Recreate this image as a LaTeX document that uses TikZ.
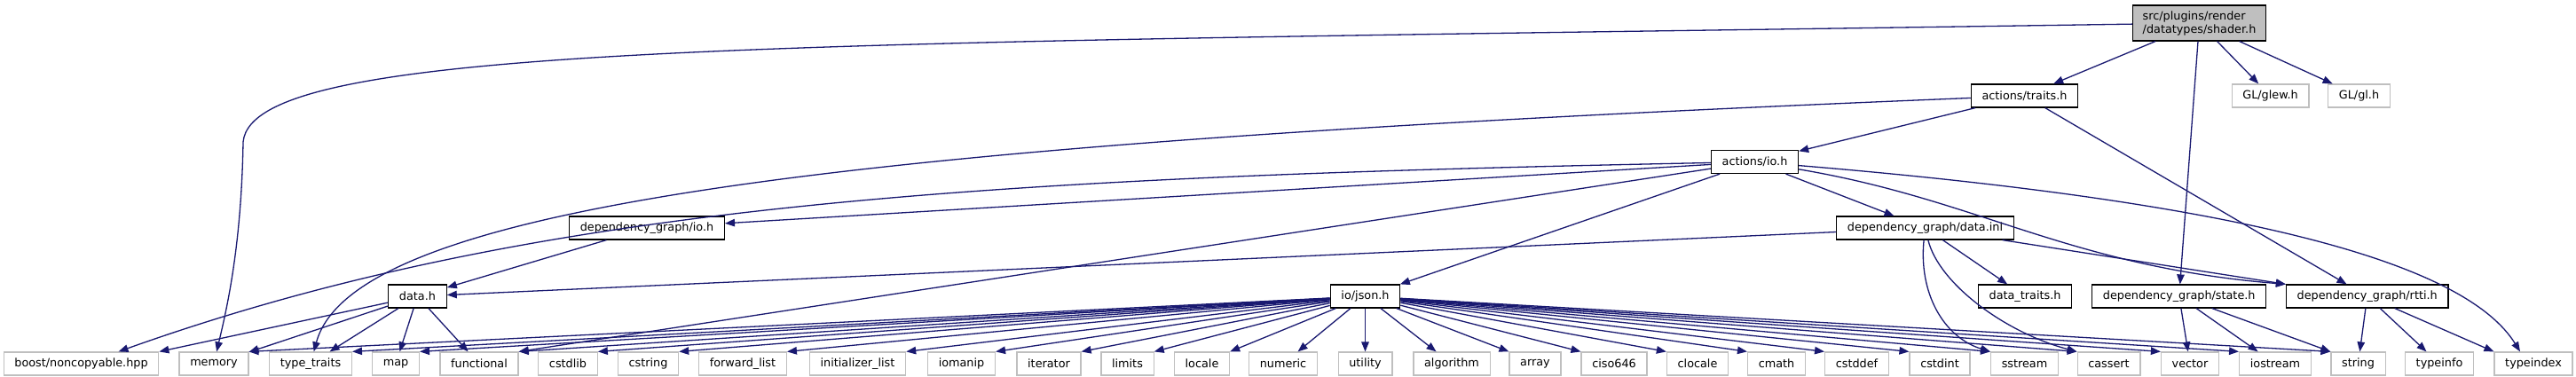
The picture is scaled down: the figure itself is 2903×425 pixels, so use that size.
\documentclass[tikz,border=0pt]{standalone}
\usepackage{fontspec}
\setmainfont{DejaVu Sans}
\usepackage{tikz}
\usetikzlibrary{arrows.meta}
\usepackage{xcolor}
\definecolor{inclblue}{HTML}{191970}
\definecolor{extgrey}{HTML}{BFBFBF}
\newcommand{\doxfont}{\fontsize{12.8}{15}\selectfont}

\begin{document}
\begin{tikzpicture}[x=1pt, y=-1pt,
    docbox/.style={draw=black, fill=white, line width=1.2pt, minimum height=26pt,
                   inner xsep=12.2pt, inner ysep=0pt, font=\doxfont},
    extbox/.style={docbox, draw=extgrey},
    rootbox/.style={docbox, fill=extgrey, minimum height=40pt, align=left, inner xsep=11pt},
    incl/.style={-{Triangle[length=11pt, width=8.5pt]}, inclblue, line width=1.3pt}]
  \useasboundingbox (0,0) rectangle (2903,425);

  % files of the project
  \node[rootbox] (shader) at (2478.5,26) {src/plugins/render\\/datatypes/shader.h};
  \node[docbox] (traits) at (2281.5,108) {actions/traits.h};
  \node[extbox] (glew) at (2558.5,108) {GL/glew.h};
  \node[extbox] (gl) at (2658.5,108) {GL/gl.h};
  \node[docbox] (actio) at (1977.5,182.5) {actions/io.h};
  \node[docbox] (dgio) at (729,257) {dependency\_graph/io.h};
  \node[docbox] (dinl) at (2169.5,257) {dependency\_graph/data.inl};
  \node[docbox] (datah) at (470.5,334) {data.h};
  \node[docbox] (json) at (1538.5,334) {io/json.h};
  \node[docbox] (dtraits) at (2282,334) {data\_traits.h};
  \node[docbox] (state) at (2455.7,334) {dependency\_graph/state.h};
  \node[docbox] (rtti) at (2667.7,334) {dependency\_graph/rtti.h};

  % system headers
  \node[extbox] (boost) at (91.5,410) {boost/noncopyable.hpp};
  \node[extbox] (memory) at (241,410) {memory};
  \node[extbox] (typetraits) at (350,410) {type\_traits};
  \node[extbox] (map) at (446,410) {map};
  \node[extbox] (functional) at (540,410) {functional};
  \node[extbox] (cstdlib) at (640,410) {cstdlib};
  \node[extbox] (cstring) at (730.5,410) {cstring};
  \node[extbox] (fwdlist) at (837,410) {forward\_list};
  \node[extbox] (initlist) at (966.5,410) {initializer\_list};
  \node[extbox] (iomanip) at (1083.5,410) {iomanip};
  \node[extbox] (iterator) at (1182,410) {iterator};
  \node[extbox] (limits) at (1270.5,410) {limits};
  \node[extbox] (locale) at (1354.5,410) {locale};
  \node[extbox] (numeric) at (1446,410) {numeric};
  \node[extbox] (utility) at (1538.5,410) {utility};
  \node[extbox] (algorithm) at (1636,410) {algorithm};
  \node[extbox] (array) at (1730,410) {array};
  \node[extbox] (ciso) at (1819,410) {ciso646};
  \node[extbox] (clocale) at (1913,410) {clocale};
  \node[extbox] (cmath) at (2002,410) {cmath};
  \node[extbox] (cstddef) at (2092.5,410) {cstddef};
  \node[extbox] (cstdint) at (2186,410) {cstdint};
  \node[extbox] (sstream) at (2281.5,410) {sstream};
  \node[extbox] (cassert) at (2376.5,410) {cassert};
  \node[extbox] (vector) at (2468,410) {vector};
  \node[extbox] (iostream) at (2564,410) {iostream};
  \node[extbox] (string) at (2657.5,410) {string};
  \node[extbox] (typeinfo) at (2749,410) {typeinfo};
  \node[extbox] (typeindex) at (2855,410) {typeindex};

  % shader.h
  \draw[incl] (shader) .. controls (900,50) and (285,45) .. (274,160)
    .. controls (272,280) and (255,350) .. (memory);
  \draw[incl] (shader) -- (traits);
  \draw[incl] (shader) -- (state);
  \draw[incl] (shader) -- (glew);
  \draw[incl] (shader) -- (gl);

  % actions/traits.h
  \draw[incl] (traits) -- (actio);
  \draw[incl] (traits) .. controls (1000,160) and (400,225) .. (typetraits);
  \draw[incl] (traits) -- (rtti);

  % actions/io.h
  \draw[incl] (actio) -- (dgio);
  \draw[incl] (actio) .. controls (1100,200) and (600,230) .. ([xshift=42]boost.north);
  \draw[incl] (actio) -- (functional.north east);
  \draw[incl] (actio) -- (json);
  \draw[incl] (actio) -- (dinl);
  \draw[incl] (actio) .. controls (2230,225) and (2330,300) .. (rtti.north west);
  \draw[incl] (actio) .. controls (2550,230) and (2780,300) .. ([xshift=-15]typeindex.north);

  % dependency_graph/io.h and data.inl
  \draw[incl] (dgio) -- (datah);
  \draw[incl] (dinl) -- (datah);
  \draw[incl] (dinl) -- (dtraits);
  \draw[incl] (dinl) .. controls (2162,330) and (2190,380) .. (sstream.north west);
  \draw[incl] (dinl) .. controls (2185,320) and (2260,375) .. (cassert.north west);
  \draw[incl] (dinl) -- (rtti.north west);

  % data.h
  \draw[incl] (datah) -- (boost.north east);
  \draw[incl] (datah) -- (memory);
  \draw[incl] (datah) -- (typetraits);
  \draw[incl] (datah) -- (map);
  \draw[incl] (datah) -- (functional);

  % io/json.h
  \draw[incl] (json) -- (memory.north east);
  \draw[incl] (json) -- (typetraits.north east);
  \draw[incl] (json) -- (map.north east);
  \draw[incl] (json) -- (functional.north east);
  \draw[incl] (json) -- (cstdlib.north east);
  \draw[incl] (json) -- (cstring.north east);
  \draw[incl] (json) -- (fwdlist.north east);
  \draw[incl] (json) -- (initlist.north east);
  \draw[incl] (json) -- (iomanip.north east);
  \draw[incl] (json) -- (iterator.north east);
  \draw[incl] (json) -- (limits.north east);
  \draw[incl] (json) -- (locale.north east);
  \draw[incl] (json) -- (numeric);
  \draw[incl] (json) -- (utility);
  \draw[incl] (json) -- (algorithm);
  \draw[incl] (json) -- (array.north west);
  \draw[incl] (json) -- (ciso.north west);
  \draw[incl] (json) -- (clocale.north west);
  \draw[incl] (json) -- (cmath.north west);
  \draw[incl] (json) -- (cstddef.north west);
  \draw[incl] (json) -- (cstdint.north west);
  \draw[incl] (json) -- (sstream.north west);
  \draw[incl] (json) -- (cassert.north west);
  \draw[incl] (json) -- (vector.north west);
  \draw[incl] (json) -- (iostream.north west);
  \draw[incl] (json) -- (string.north west);

  % state.h and rtti.h
  \draw[incl] (state) -- (vector);
  \draw[incl] (state) -- (iostream);
  \draw[incl] (state) -- (string.north west);
  \draw[incl] (rtti) -- (string);
  \draw[incl] (rtti) -- (typeinfo);
  \draw[incl] (rtti) -- (typeindex.north west);
\end{tikzpicture}
\end{document}
